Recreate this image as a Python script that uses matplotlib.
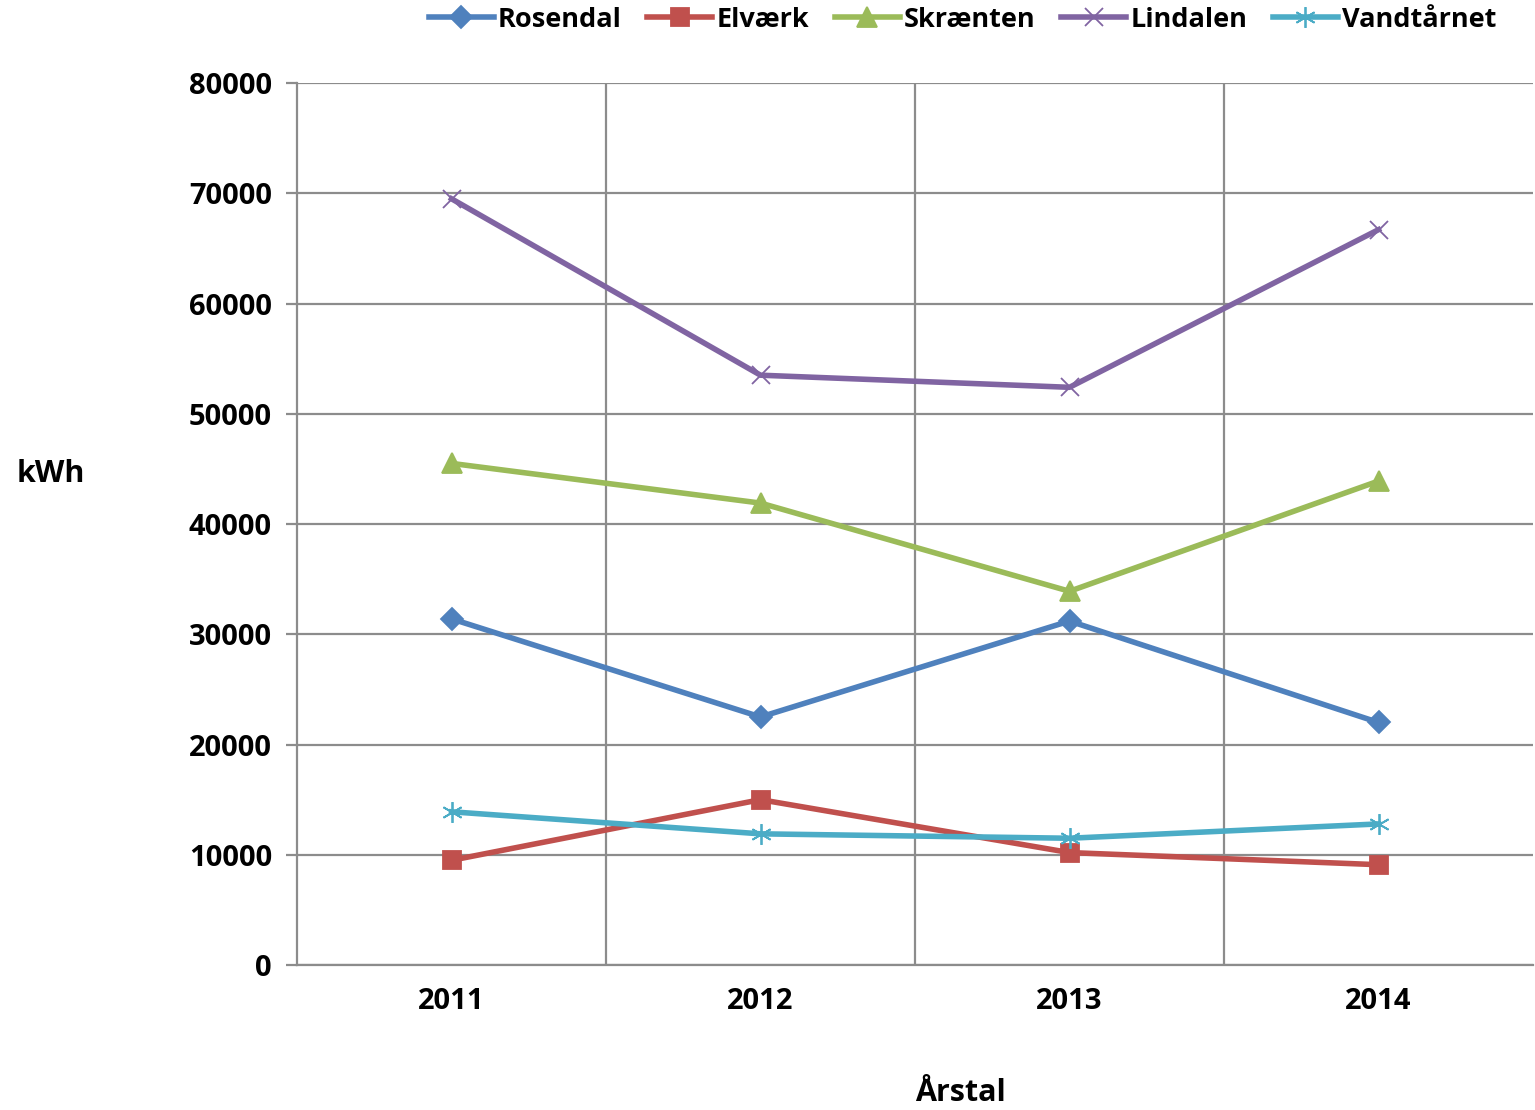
import numpy as np
import matplotlib.pyplot as plt
from matplotlib.ticker import FixedLocator

# Værdier (kWh pr. år)
aar = ['2011', '2012', '2013', '2014']
rosendal = [31400, 22500, 31200, 22000]
elvaerk = [9500, 15000, 10200, 9100]
skraenten = [45500, 41900, 33900, 43900]
lindalen = [69500, 53500, 52400, 66700]
vandtaarnet = [13900, 11900, 11500, 12800]

plt.rcParams['font.family'] = ['Open Sans', 'DejaVu Sans']
plt.rcParams['font.weight'] = 'bold'

fig = plt.figure(figsize=(15.35, 11.1), dpi=100)
ax = fig.add_axes([0.1935, 0.1306, 0.8052, 0.7946])

x = np.arange(len(aar))
serier = [
    ('Rosendal', rosendal, '#4F81BD', 'D', 11),
    ('Elværk', elvaerk, '#C0504D', 's', 13),
    ('Skrænten', skraenten, '#9BBB59', '^', 14),
    ('Lindalen', lindalen, '#8064A2', 'x', 13),
    ('Vandtårnet', vandtaarnet, '#4BACC6', (6, 2, 0), 15),
]
for navn, v, farve, mk, ms in serier:
    ax.plot(x, v, color=farve, lw=4, marker=mk, markersize=ms,
            markeredgewidth=1.3, markeredgecolor=farve, label=navn)

ax.set_xlim(-0.5, 3.5)
ax.set_ylim(0, 80000)
ax.set_yticks(np.arange(0, 80001, 10000))
ax.set_xticks(x)
ax.set_xticklabels(aar)
ax.xaxis.set_minor_locator(FixedLocator([0.5, 1.5, 2.5]))
ax.grid(True, axis='y', color='#8C8C8C', lw=1.6)
ax.grid(True, axis='x', which='minor', color='#8C8C8C', lw=1.6)
ax.set_axisbelow(True)
for s in ['top', 'right']:
    ax.spines[s].set_visible(False)
for s in ['left', 'bottom']:
    ax.spines[s].set_color('#8C8C8C')
    ax.spines[s].set_linewidth(1.6)
ax.tick_params(axis='y', length=8, width=1.6, color='#8C8C8C', labelsize=21, pad=10)
ax.tick_params(axis='x', which='both', length=0, labelsize=21, pad=16)
for lbl in ax.get_xticklabels() + ax.get_yticklabels():
    lbl.set_fontweight('bold')

ax.set_ylabel('kWh', fontsize=22, fontweight='bold', rotation=0, labelpad=0)
ax.yaxis.set_label_coords(-0.199, 0.54)
ax.set_xlabel('Årstal', fontsize=22, fontweight='bold', labelpad=0)
ax.xaxis.set_label_coords(0.537, -0.128)

leg = fig.legend(loc='upper center', bbox_to_anchor=(0.627, 1.016), ncol=5,
                 frameon=False, fontsize=19.5, handlelength=2.4,
                 handletextpad=0.15, columnspacing=0.95)
for t in leg.get_texts():
    t.set_fontweight('bold')

plt.savefig('out.png', dpi=100)
